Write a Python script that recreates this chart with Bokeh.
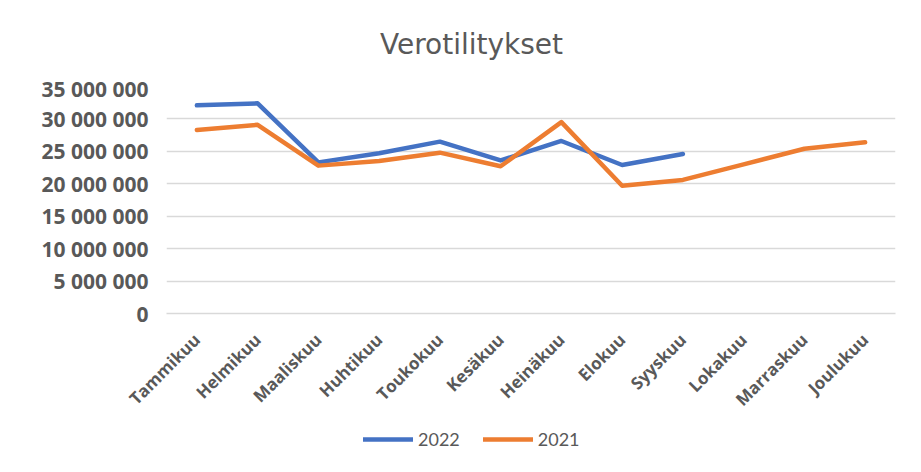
import math
from bokeh.plotting import figure
from bokeh.layouts import column
from bokeh.models import (FactorRange, Range1d, FixedTicker, Legend, LegendItem, Label)
from bokeh.embed import file_html
from bokeh.resources import INLINE

months = ["Tammikuu", "Helmikuu", "Maaliskuu", "Huhtikuu", "Toukokuu", "Kesäkuu",
          "Heinäkuu", "Elokuu", "Syyskuu", "Lokakuu", "Marraskuu", "Joulukuu"]
v2022 = [32_100_000, 32_400_000, 23_300_000, 24_700_000, 26_500_000, 23_600_000,
         26_600_000, 22_900_000, 24_600_000]
v2021 = [28_300_000, 29_100_000, 22_800_000, 23_500_000, 24_800_000, 22_700_000,
         29_500_000, 19_700_000, 20_600_000, 23_000_000, 25_400_000, 26_400_000]
y_ticks = [0, 5_000_000, 10_000_000, 15_000_000, 20_000_000, 25_000_000,
           30_000_000, 35_000_000]
y_tick_labels = ["0", "5 000 000", "10 000 000", "15 000 000", "20 000 000",
                 "25 000 000", "30 000 000", "35 000 000"]
series_names = ["2022", "2021"]
title_text = "Verotilitykset"

GREY = "#595959"
GRID = "#d9d9d9"
BLUE = "#4472C4"
ORANGE = "#ED7D31"
W = 913


def strip(h, x_range, y_range):
    f = figure(width=W, height=h, output_backend="svg", toolbar_location=None,
               x_range=x_range, y_range=y_range,
               min_border=0, min_border_left=0, min_border_right=0,
               min_border_top=0, min_border_bottom=0)
    f.axis.visible = False
    f.grid.visible = False
    f.outline_line_color = None
    f.background_fill_color = "white"
    f.border_fill_color = "white"
    return f


# ---- title strip (frame is aligned with the main chart's frame in the column)
t = strip(74, Range1d(0, 1), Range1d(0, 1))
t.add_layout(Label(x=305, y=30, x_units="screen", y_units="screen",
                   text=title_text, text_align="center",
                   text_baseline="alphabetic", text_font="DejaVu Sans",
                   text_font_size="28px", text_color=GREY))

# ---- main chart
p = figure(width=W, height=349, output_backend="svg", toolbar_location=None,
           x_range=FactorRange(factors=months, range_padding=0),
           y_range=Range1d(0, 35_000_000),
           min_border_left=166, min_border_right=18,
           min_border_top=12, min_border_bottom=110)
p.outline_line_color = None
p.background_fill_color = "white"
p.border_fill_color = "white"

p.yaxis.ticker = FixedTicker(ticks=y_ticks)
p.yaxis.major_label_overrides = {t_: l for t_, l in zip(y_ticks, y_tick_labels)}
p.yaxis.axis_line_color = None
p.yaxis.major_tick_line_color = None
p.yaxis.minor_tick_line_color = None
p.yaxis.major_label_standoff = 12
p.yaxis.major_label_text_font = "Open Sans"
p.yaxis.major_label_text_font_style = "bold"
p.yaxis.major_label_text_font_size = "21px"
p.yaxis.major_label_text_color = GREY

p.xaxis.axis_line_color = GRID
p.xaxis.axis_line_width = 1.5
p.xaxis.major_tick_line_color = None
p.xaxis.minor_tick_line_color = None
p.xaxis.major_label_orientation = math.pi / 4
p.xaxis.major_label_standoff = 17
p.xaxis.major_label_text_font = "Open Sans"
p.xaxis.major_label_text_font_style = "bold"
p.xaxis.major_label_text_font_size = "17px"
p.xaxis.major_label_text_color = GREY

p.xgrid.grid_line_color = None
p.ygrid.grid_line_color = GRID
p.ygrid.grid_line_width = 1.5

p.line(months[:len(v2022)], v2022, line_color=BLUE, line_width=4.5,
       line_cap="round", line_join="round")
p.line(months[:len(v2021)], v2021, line_color=ORANGE, line_width=4.5,
       line_cap="round", line_join="round")

# ---- legend strip (series drawn outside its visible y-range; only keys show)
lg = strip(49, FactorRange(factors=months, range_padding=0),
           Range1d(40_000_000, 50_000_000))
k22 = lg.line(months[:len(v2022)], v2022, line_color=BLUE, line_width=4.5,
              line_cap="round")
k21 = lg.line(months[:len(v2021)], v2021, line_color=ORANGE, line_width=4.5,
              line_cap="round")
legend = Legend(items=[LegendItem(label=series_names[0], renderers=[k22]),
                       LegendItem(label=series_names[1], renderers=[k21])],
                orientation="horizontal", location=(197, 22),
                padding=0, margin=0, spacing=23, label_standoff=5,
                glyph_width=50, glyph_height=20, label_height=20,
                border_line_alpha=0, background_fill_alpha=0,
                label_text_font="Lato", label_text_font_size="18px",
                label_text_color=GREY)
lg.add_layout(legend, "center")

layout = column(t, p, lg, spacing=0)
open("out.html", "w").write(file_html(layout, INLINE))
